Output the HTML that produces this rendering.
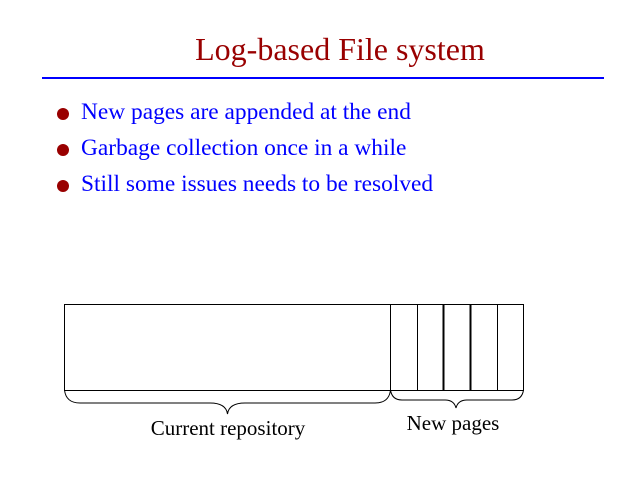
<!DOCTYPE html>
<html><head><style>
body{margin:0;background:#fff;width:640px;height:480px;overflow:hidden;position:relative;font-family:"Liberation Serif",serif}
.t{position:absolute;left:0;width:680px;text-align:center;top:31px;font-size:32px;line-height:36px;color:#990000}
.b{position:absolute;left:81px;font-size:23.4px;color:#0000ff;line-height:26px}
.d{position:absolute;left:57px;width:12px;height:12px;border-radius:50%;background:#990000}
</style></head><body>
<div class="t">Log-based File system</div>
<div style="position:absolute;left:42px;top:77px;width:562px;height:2px;background:#0000ff"></div>
<div class="d" style="top:108px"></div><div class="b" style="top:99px">New pages are appended at the end</div>
<div class="d" style="top:144px"></div><div class="b" style="top:135px">Garbage collection once in a while</div>
<div class="d" style="top:180px"></div><div class="b" style="top:171px">Still some issues needs to be resolved</div>
<svg width="640" height="480" style="position:absolute;left:0;top:0">
<rect x="64.5" y="304.5" width="459" height="86" fill="none" stroke="#000"/>
<line x1="390.5" y1="304" x2="390.5" y2="390" stroke="#000"/>
<line x1="417.5" y1="304" x2="417.5" y2="390" stroke="#000"/>
<line x1="443.5" y1="304" x2="443.5" y2="390" stroke="#000" stroke-width="2"/>
<line x1="470.5" y1="304" x2="470.5" y2="390" stroke="#000" stroke-width="2"/>
<line x1="497.5" y1="304" x2="497.5" y2="390" stroke="#000"/>
<path d="M64.5,390 Q66,403 80,403 L210,403 Q226,403 227.5,414 Q229,403 245,403 L375,403 Q389,403 390.5,390" fill="none" stroke="#000"/>
<path d="M390.5,390 Q392,400 402,400 L445,400 Q454,400 456,408 Q458,400 467,400 L512,400 Q522,400 523.5,390" fill="none" stroke="#000"/>
<text x="228" y="435" font-size="21" text-anchor="middle" font-family="Liberation Serif">Current repository</text>
<text x="453" y="430" font-size="21" text-anchor="middle" font-family="Liberation Serif">New pages</text>
</svg>
</body></html>
